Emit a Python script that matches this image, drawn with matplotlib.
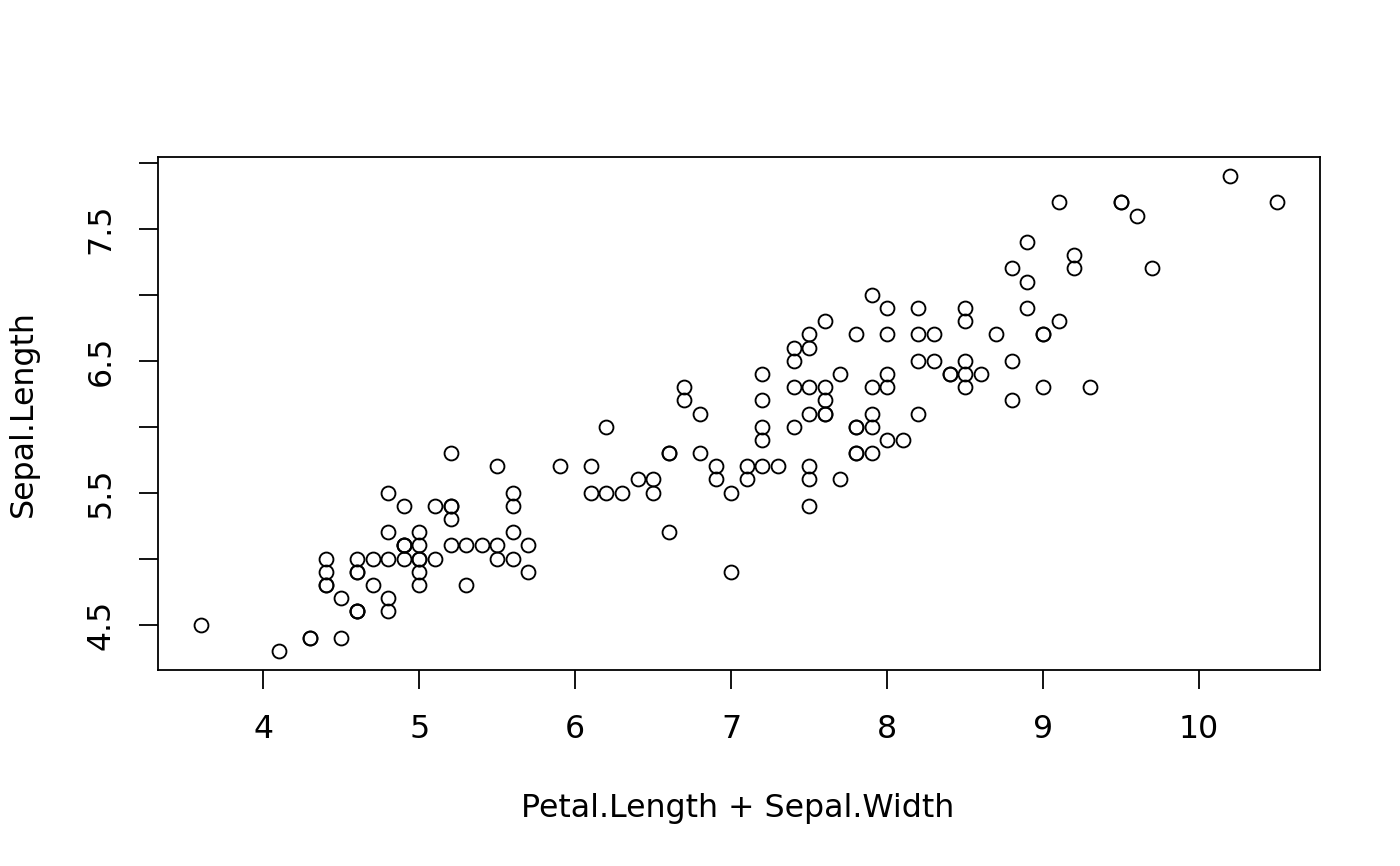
import numpy as np
import matplotlib
matplotlib.use("Agg")
import matplotlib.pyplot as plt

# iris measurements (rows 1-150)
sepal_length = [
    5.1, 4.9, 4.7, 4.6, 5.0, 5.4, 4.6, 5.0, 4.4, 4.9, 5.4, 4.8, 4.8, 4.3, 5.8, 5.7, 5.4, 5.1, 5.7, 5.1,
    5.4, 5.1, 4.6, 5.1, 4.8, 5.0, 5.0, 5.2, 5.2, 4.7, 4.8, 5.4, 5.2, 5.5, 4.9, 5.0, 5.5, 4.9, 4.4, 5.1,
    5.0, 4.5, 4.4, 5.0, 5.1, 4.8, 5.1, 4.6, 5.3, 5.0,
    7.0, 6.4, 6.9, 5.5, 6.5, 5.7, 6.3, 4.9, 6.6, 5.2, 5.0, 5.9, 6.0, 6.1, 5.6, 6.7, 5.6, 5.8, 6.2, 5.6,
    5.9, 6.1, 6.3, 6.1, 6.4, 6.6, 6.8, 6.7, 6.0, 5.7, 5.5, 5.5, 5.8, 6.0, 5.4, 6.0, 6.7, 6.3, 5.6, 5.5,
    5.5, 6.1, 5.8, 5.0, 5.6, 5.7, 5.7, 6.2, 5.1, 5.7,
    6.3, 5.8, 7.1, 6.3, 6.5, 7.6, 4.9, 7.3, 6.7, 7.2, 6.5, 6.4, 6.8, 5.7, 5.8, 6.4, 6.5, 7.7, 7.7, 6.0,
    6.9, 5.6, 7.7, 6.3, 6.7, 7.2, 6.2, 6.1, 6.4, 7.2, 7.4, 7.9, 6.4, 6.3, 6.1, 7.7, 6.3, 6.4, 6.0, 6.9,
    6.7, 6.9, 5.8, 6.8, 6.7, 6.7, 6.3, 6.5, 6.2, 5.9,
]
sepal_width = [
    3.5, 3.0, 3.2, 3.1, 3.6, 3.9, 3.4, 3.4, 2.9, 3.1, 3.7, 3.4, 3.0, 3.0, 4.0, 4.4, 3.9, 3.5, 3.8, 3.8,
    3.4, 3.7, 3.6, 3.3, 3.4, 3.0, 3.4, 3.5, 3.4, 3.2, 3.1, 3.4, 4.1, 4.2, 3.1, 3.2, 3.5, 3.6, 3.0, 3.4,
    3.5, 2.3, 3.2, 3.5, 3.8, 3.0, 3.8, 3.2, 3.7, 3.3,
    3.2, 3.2, 3.1, 2.3, 2.8, 2.8, 3.3, 2.4, 2.9, 2.7, 2.0, 3.0, 2.2, 2.9, 2.9, 3.1, 3.0, 2.7, 2.2, 2.5,
    3.2, 2.8, 2.5, 2.8, 2.9, 3.0, 2.8, 3.0, 2.9, 2.6, 2.4, 2.4, 2.7, 2.7, 3.0, 3.4, 3.1, 2.3, 3.0, 2.5,
    2.6, 3.0, 2.6, 2.3, 2.7, 3.0, 2.9, 2.9, 2.5, 2.8,
    3.3, 2.7, 3.0, 2.9, 3.0, 3.0, 2.5, 2.9, 2.5, 3.6, 3.2, 2.7, 3.0, 2.5, 2.8, 3.2, 3.0, 3.8, 2.6, 2.2,
    3.2, 2.8, 2.8, 2.7, 3.3, 3.2, 2.8, 3.0, 2.8, 3.0, 2.8, 3.8, 2.8, 2.8, 2.6, 3.0, 3.4, 3.1, 3.0, 3.1,
    3.1, 3.1, 2.7, 3.2, 3.3, 3.0, 2.5, 3.0, 3.4, 3.0,
]
petal_length = [
    1.4, 1.4, 1.3, 1.5, 1.4, 1.7, 1.4, 1.5, 1.4, 1.5, 1.5, 1.6, 1.4, 1.1, 1.2, 1.5, 1.3, 1.4, 1.7, 1.5,
    1.7, 1.5, 1.0, 1.7, 1.9, 1.6, 1.6, 1.5, 1.4, 1.6, 1.6, 1.5, 1.5, 1.4, 1.5, 1.2, 1.3, 1.4, 1.3, 1.5,
    1.3, 1.3, 1.3, 1.6, 1.9, 1.4, 1.6, 1.4, 1.5, 1.4,
    4.7, 4.5, 4.9, 4.0, 4.6, 4.5, 4.7, 3.3, 4.6, 3.9, 3.5, 4.2, 4.0, 4.7, 3.6, 4.4, 4.5, 4.1, 4.5, 3.9,
    4.8, 4.0, 4.9, 4.7, 4.3, 4.4, 4.8, 5.0, 4.5, 3.5, 3.8, 3.7, 3.9, 5.1, 4.5, 4.5, 4.7, 4.4, 4.1, 4.0,
    4.4, 4.6, 4.0, 3.3, 4.2, 4.2, 4.2, 4.3, 3.0, 4.1,
    6.0, 5.1, 5.9, 5.6, 5.8, 6.6, 4.5, 6.3, 5.8, 6.1, 5.1, 5.3, 5.5, 5.0, 5.1, 5.3, 5.5, 6.7, 6.9, 5.0,
    5.7, 4.9, 6.7, 4.9, 5.7, 6.0, 4.8, 4.9, 5.6, 5.8, 6.1, 6.4, 5.6, 5.1, 5.6, 6.1, 5.6, 5.5, 4.8, 5.4,
    5.6, 5.1, 5.1, 5.9, 5.7, 5.2, 5.0, 5.2, 5.4, 5.1,
]

x_ticks = [4, 5, 6, 7, 8, 9, 10]
y_ticks = [4.5, 5.0, 5.5, 6.0, 6.5, 7.0, 7.5, 8.0]
y_ticklabels = ["4.5", "", "5.5", "", "6.5", "", "7.5", ""]

x = np.array(petal_length) + np.array(sepal_width)
y = np.array(sepal_length)

W, H = 1400, 866
fig = plt.figure(figsize=(14, 8.66), dpi=100)
ax = fig.add_axes([158 / W, 1 - 670 / H, (1320 - 158) / W, (670 - 157) / H])

ax.plot(x, y, "o", mfc="none", mec="black", ms=10, mew=1.35)

# R style 4% padding
xr = x.max() - x.min()
yr = y.max() - y.min()
ax.set_xlim(x.min() - 0.04 * xr, x.max() + 0.04 * xr)
ax.set_ylim(y.min() - 0.04 * yr, y.max() + 0.04 * yr)

ax.set_xticks(x_ticks)
ax.set_xticklabels([str(t) for t in x_ticks])
ax.set_yticks(y_ticks)
ax.set_yticklabels(y_ticklabels, rotation=90, va="center")

for s in ax.spines.values():
    s.set_linewidth(1.3)
ax.tick_params(axis="both", direction="out", length=13.7, width=1.3, labelsize=22.8)
ax.tick_params(axis="x", pad=18)
ax.tick_params(axis="y", pad=16)

fig.text(738 / W, 1 - 808 / H, "Petal.Length + Sepal.Width", ha="center", va="center", fontsize=22.8)
fig.text(23.5 / W, 1 - 413.5 / H, "Sepal.Length", ha="center", va="center", rotation=90, fontsize=22.8)

fig.savefig("out.png", dpi=100)
